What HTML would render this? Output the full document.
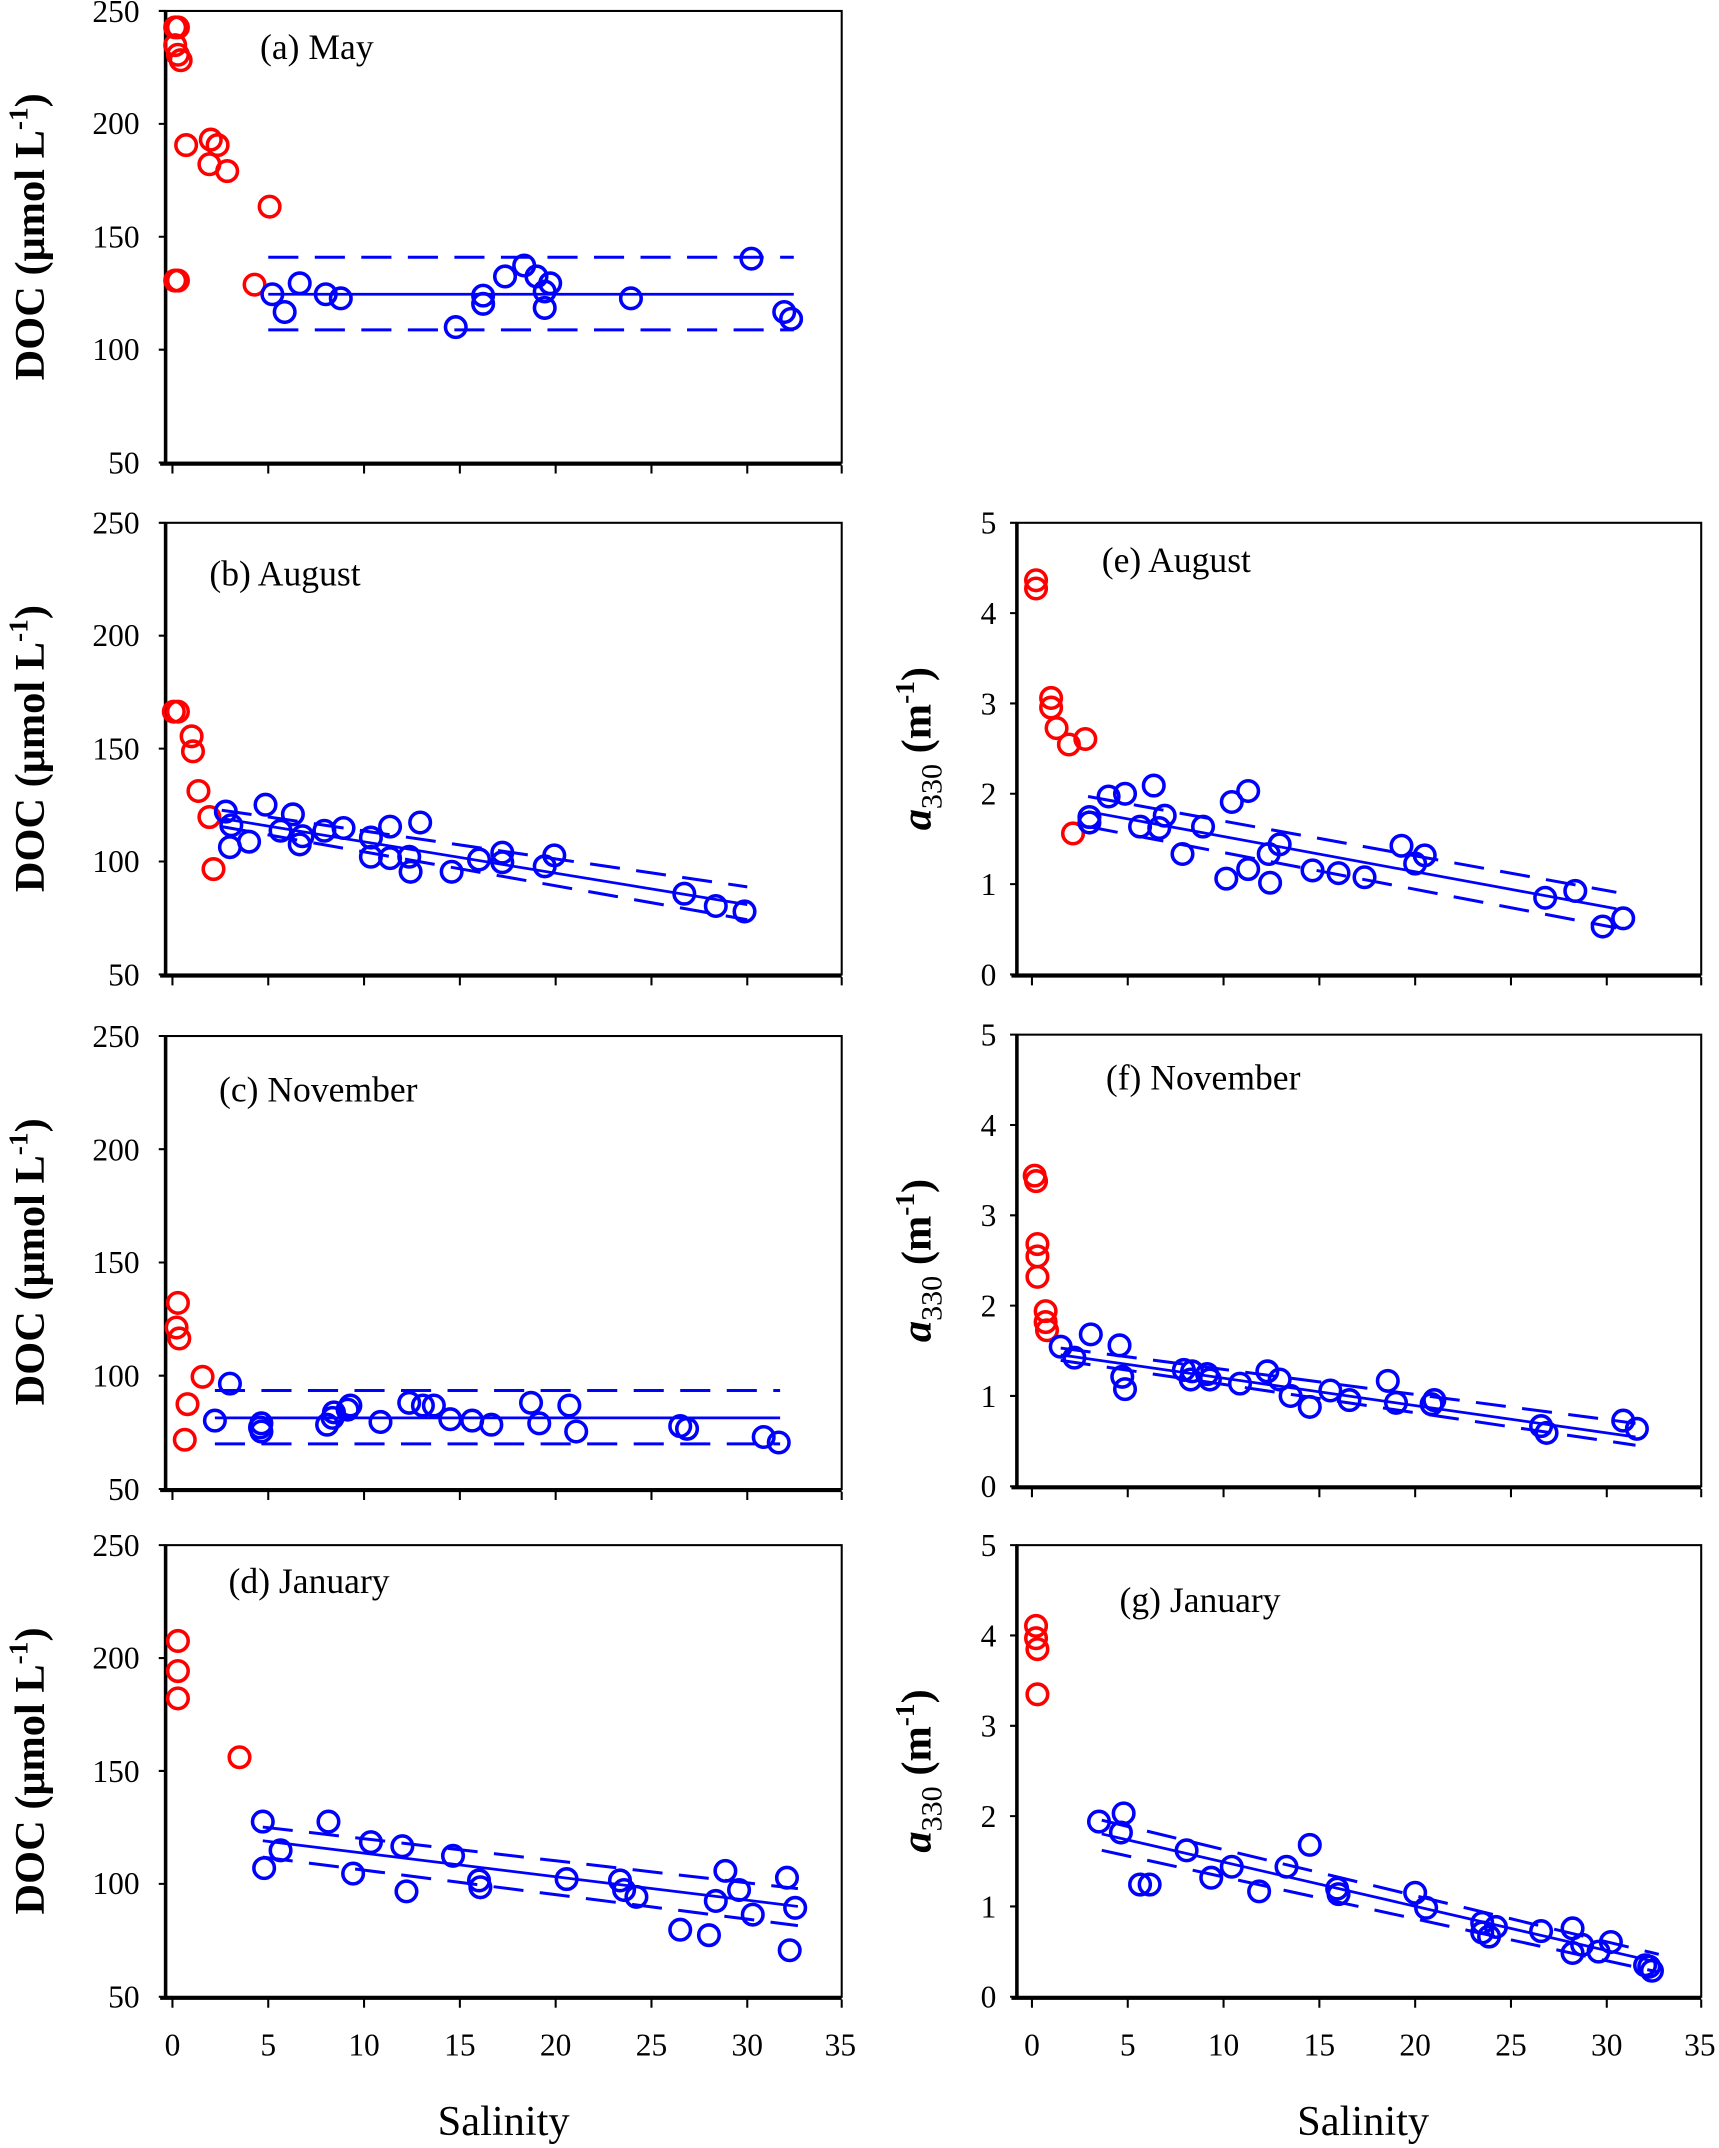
<!DOCTYPE html>
<html><head><meta charset="utf-8"><style>
html,body{margin:0;padding:0;background:#fff;}
svg{display:block;}
text{font-family:"Liberation Serif",serif;fill:#000;}
.t{font-size:23px;}
.p{font-size:26px;}
.ax{font-family:"Liberation Serif",serif;font-size:31px;}
.b{font-weight:bold;}
</style></head><body>
<svg width="1719" height="2148" viewBox="0 0 1256 1569.5" preserveAspectRatio="none" xmlns="http://www.w3.org/2000/svg">
<defs>
<g id="xt"><line x1="126" y1="0" x2="126" y2="6"/><line x1="196" y1="0" x2="196" y2="6"/><line x1="266" y1="0" x2="266" y2="6"/><line x1="336" y1="0" x2="336" y2="6"/><line x1="406" y1="0" x2="406" y2="6"/><line x1="476" y1="0" x2="476" y2="6"/><line x1="546" y1="0" x2="546" y2="6"/><line x1="615" y1="0" x2="615" y2="6"/></g>
</defs>

<g fill="none" stroke="#000">
 <rect x="121" y="8" width="494" height="330" stroke-width="1.5"/>
 <rect x="121" y="382" width="494" height="330" stroke-width="1.5"/>
 <rect x="121" y="757" width="494" height="331" stroke-width="1.5"/>
 <rect x="121" y="1129" width="494" height="330" stroke-width="1.5"/>
 <rect x="743" y="382" width="500" height="330" stroke-width="1.5"/>
 <rect x="743" y="756" width="500" height="330" stroke-width="1.5"/>
 <rect x="743" y="1129" width="500" height="330" stroke-width="1.5"/>
 <g stroke-width="2.6">
  <line x1="121" y1="8" x2="121" y2="339"/><line x1="117" y1="339" x2="615" y2="339"/>
  <line x1="121" y1="382" x2="121" y2="713"/><line x1="117" y1="713" x2="615" y2="713"/>
  <line x1="121" y1="757" x2="121" y2="1089"/><line x1="117" y1="1089" x2="615" y2="1089"/>
  <line x1="121" y1="1129" x2="121" y2="1460"/><line x1="117" y1="1460" x2="615" y2="1460"/>
  <line x1="743" y1="382" x2="743" y2="713"/><line x1="739" y1="713" x2="1243" y2="713"/>
  <line x1="743" y1="756" x2="743" y2="1087"/><line x1="739" y1="1087" x2="1243" y2="1087"/>
  <line x1="743" y1="1129" x2="743" y2="1460"/><line x1="739" y1="1460" x2="1243" y2="1460"/>
 </g>
 <g stroke-width="1.5">
  <path d="M116 8H121M116 90.5H121M116 173H121M116 255.5H121M116 338H121"/>
  <path d="M116 382H121M116 464.5H121M116 547H121M116 629.5H121M116 712H121"/>
  <path d="M116 757H121M116 839.7H121M116 922.5H121M116 1005.2H121M116 1088H121"/>
  <path d="M116 1129H121M116 1211.5H121M116 1294H121M116 1376.5H121M116 1459H121"/>
  <path d="M738 382H743M738 448H743M738 514H743M738 580H743M738 646H743M738 712H743"/>
  <path d="M738 756H743M738 822H743M738 888H743M738 954H743M738 1020H743M738 1086H743"/>
  <path d="M738 1129H743M738 1195H743M738 1261H743M738 1327H743M738 1393H743M738 1459H743"/>
 </g>
 <g stroke-width="1.5">
  <use href="#xt" y="340"/><use href="#xt" y="714"/><use href="#xt" y="1090"/><use href="#xt" y="1461"/>
  <use href="#xt" x="628" y="714"/><use href="#xt" x="628" y="1088"/><use href="#xt" x="628" y="1461"/>
 </g>
</g>

<g class="t" text-anchor="end">
 <text x="102" y="16">250</text><text x="102" y="98">200</text><text x="102" y="181">150</text><text x="102" y="263">100</text><text x="102" y="346">50</text>
 <text x="102" y="390">250</text><text x="102" y="472">200</text><text x="102" y="555">150</text><text x="102" y="637">100</text><text x="102" y="720">50</text>
 <text x="102" y="765">250</text><text x="102" y="848">200</text><text x="102" y="930">150</text><text x="102" y="1013">100</text><text x="102" y="1096">50</text>
 <text x="102" y="1137">250</text><text x="102" y="1219">200</text><text x="102" y="1302">150</text><text x="102" y="1384">100</text><text x="102" y="1467">50</text>
 <text x="728" y="390">5</text><text x="728" y="456">4</text><text x="728" y="522">3</text><text x="728" y="588">2</text><text x="728" y="654">1</text><text x="728" y="720">0</text>
 <text x="728" y="764">5</text><text x="728" y="830">4</text><text x="728" y="896">3</text><text x="728" y="962">2</text><text x="728" y="1028">1</text><text x="728" y="1094">0</text>
 <text x="728" y="1137">5</text><text x="728" y="1203">4</text><text x="728" y="1269">3</text><text x="728" y="1335">2</text><text x="728" y="1401">1</text><text x="728" y="1467">0</text>
</g>
<g class="t" text-anchor="middle">
 <text x="126" y="1502">0</text><text x="196" y="1502">5</text><text x="266" y="1502">10</text><text x="336" y="1502">15</text><text x="406" y="1502">20</text><text x="476" y="1502">25</text><text x="546" y="1502">30</text><text x="614" y="1502">35</text>
 <text x="754" y="1502">0</text><text x="824" y="1502">5</text><text x="894" y="1502">10</text><text x="964" y="1502">15</text><text x="1034" y="1502">20</text><text x="1104" y="1502">25</text><text x="1174" y="1502">30</text><text x="1242" y="1502">35</text>
</g>
<text class="ax" x="368" y="1560" text-anchor="middle">Salinity</text>
<text class="ax" x="996" y="1560" text-anchor="middle">Salinity</text>

<g class="ax b">
 <text transform="translate(32,173) rotate(-90)" text-anchor="middle">DOC (μmol L<tspan dy="-12" font-size="20">-1</tspan><tspan dy="12">)</tspan></text>
 <text transform="translate(32,547) rotate(-90)" text-anchor="middle">DOC (μmol L<tspan dy="-12" font-size="20">-1</tspan><tspan dy="12">)</tspan></text>
 <text transform="translate(32,922) rotate(-90)" text-anchor="middle">DOC (μmol L<tspan dy="-12" font-size="20">-1</tspan><tspan dy="12">)</tspan></text>
 <text transform="translate(32,1294) rotate(-90)" text-anchor="middle">DOC (μmol L<tspan dy="-12" font-size="20">-1</tspan><tspan dy="12">)</tspan></text>
 <text transform="translate(680,547) rotate(-90)" text-anchor="middle"><tspan font-style="italic">a</tspan><tspan font-size="22" font-weight="normal" dy="8">330</tspan><tspan dy="-8"> (m</tspan><tspan dy="-12" font-size="20">-1</tspan><tspan dy="12">)</tspan></text>
 <text transform="translate(680,921) rotate(-90)" text-anchor="middle"><tspan font-style="italic">a</tspan><tspan font-size="22" font-weight="normal" dy="8">330</tspan><tspan dy="-8"> (m</tspan><tspan dy="-12" font-size="20">-1</tspan><tspan dy="12">)</tspan></text>
 <text transform="translate(680,1294) rotate(-90)" text-anchor="middle"><tspan font-style="italic">a</tspan><tspan font-size="22" font-weight="normal" dy="8">330</tspan><tspan dy="-8"> (m</tspan><tspan dy="-12" font-size="20">-1</tspan><tspan dy="12">)</tspan></text>
</g>

<g class="p">
 <text x="190" y="43">(a) May</text>
 <text x="153" y="428">(b) August</text>
 <text x="160" y="805">(c) November</text>
 <text x="167" y="1164">(d) January</text>
 <text x="805" y="418">(e) August</text>
 <text x="808" y="796">(f) November</text>
 <text x="818" y="1178">(g) January</text>
</g>

<g stroke="#0000ff" stroke-width="2" fill="none">
 <line x1="196" y1="215" x2="580" y2="215"/>
 <line x1="162" y1="598" x2="546" y2="661"/>
 <line x1="157" y1="1036" x2="570" y2="1036"/>
 <line x1="192" y1="1345" x2="583" y2="1393"/>
 <line x1="795" y1="593" x2="1181" y2="664"/>
 <line x1="775" y1="990" x2="1195" y2="1050"/>
 <line x1="805" y1="1340" x2="1212" y2="1434"/>
 <g stroke-dasharray="22,12" stroke-width="2.2">
  <line x1="196" y1="188" x2="580" y2="188"/><line x1="196" y1="241" x2="580" y2="241"/>
  <line x1="162" y1="592" x2="546" y2="648"/><line x1="162" y1="604" x2="546" y2="672"/>
  <line x1="157" y1="1016" x2="570" y2="1016"/><line x1="157" y1="1055" x2="570" y2="1055"/>
  <line x1="192" y1="1335" x2="583" y2="1380"/><line x1="192" y1="1357" x2="583" y2="1407"/>
  <line x1="795" y1="582" x2="1181" y2="652"/><line x1="795" y1="604" x2="1181" y2="678"/>
  <line x1="775" y1="985" x2="1195" y2="1040"/><line x1="775" y1="994" x2="1195" y2="1056"/>
  <line x1="805" y1="1330" x2="1212" y2="1428"/><line x1="805" y1="1352" x2="1212" y2="1441"/>
 </g>
</g>

<g fill="none" stroke="#ff0000" stroke-width="2.6">
 <circle cx="128" cy="20" r="7.5"/><circle cx="130" cy="20" r="7.5"/><circle cx="128" cy="33" r="7.5"/><circle cx="130" cy="40" r="7.5"/><circle cx="132" cy="44" r="7.5"/><circle cx="128" cy="205" r="7.5"/><circle cx="130" cy="205" r="7.5"/><circle cx="136" cy="106" r="7.5"/><circle cx="154" cy="102" r="7.5"/><circle cx="159" cy="106" r="7.5"/><circle cx="153" cy="120" r="7.5"/><circle cx="166" cy="125" r="7.5"/><circle cx="197" cy="151" r="7.5"/><circle cx="186" cy="208" r="7.5"/>
 <circle cx="127" cy="520" r="7.5"/><circle cx="130" cy="520" r="7.5"/><circle cx="140" cy="538" r="7.5"/><circle cx="141" cy="549" r="7.5"/><circle cx="145" cy="578" r="7.5"/><circle cx="153" cy="597" r="7.5"/><circle cx="156" cy="635" r="7.5"/>
 <circle cx="130" cy="952" r="7.5"/><circle cx="129" cy="970" r="7.5"/><circle cx="131" cy="978" r="7.5"/><circle cx="148" cy="1006" r="7.5"/><circle cx="137" cy="1026" r="7.5"/><circle cx="135" cy="1052" r="7.5"/>
 <circle cx="130" cy="1199" r="7.5"/><circle cx="130" cy="1221" r="7.5"/><circle cx="130" cy="1241" r="7.5"/><circle cx="175" cy="1284" r="7.5"/>
 <circle cx="757" cy="424" r="7.5"/><circle cx="757" cy="430" r="7.5"/><circle cx="768" cy="510" r="7.5"/><circle cx="768" cy="517" r="7.5"/><circle cx="772" cy="532" r="7.5"/><circle cx="781" cy="544" r="7.5"/><circle cx="793" cy="540" r="7.5"/><circle cx="784" cy="609" r="7.5"/>
 <circle cx="756" cy="859" r="7.5"/><circle cx="757" cy="863" r="7.5"/><circle cx="758" cy="909" r="7.5"/><circle cx="758" cy="918" r="7.5"/><circle cx="758" cy="933" r="7.5"/><circle cx="764" cy="958" r="7.5"/><circle cx="764" cy="966" r="7.5"/><circle cx="765" cy="972" r="7.5"/>
 <circle cx="757" cy="1188" r="7.5"/><circle cx="757" cy="1197" r="7.5"/><circle cx="758" cy="1205" r="7.5"/><circle cx="758" cy="1238" r="7.5"/>
</g>

<g fill="none" stroke="#0000ff" stroke-width="2.6">
 <circle cx="199" cy="215" r="7.5"/><circle cx="208" cy="228" r="7.5"/><circle cx="219" cy="207" r="7.5"/><circle cx="238" cy="215" r="7.5"/><circle cx="249" cy="218" r="7.5"/><circle cx="333" cy="239" r="7.5"/><circle cx="353" cy="216" r="7.5"/><circle cx="353" cy="222" r="7.5"/><circle cx="369" cy="202" r="7.5"/><circle cx="383" cy="194" r="7.5"/><circle cx="392" cy="202" r="7.5"/><circle cx="398" cy="213" r="7.5"/><circle cx="402" cy="207" r="7.5"/><circle cx="398" cy="225" r="7.5"/><circle cx="461" cy="218" r="7.5"/><circle cx="549" cy="189" r="7.5"/><circle cx="573" cy="228" r="7.5"/><circle cx="578" cy="233" r="7.5"/>

 <circle cx="165" cy="593" r="7.5"/><circle cx="169" cy="603" r="7.5"/><circle cx="168" cy="619" r="7.5"/><circle cx="182" cy="615" r="7.5"/><circle cx="194" cy="588" r="7.5"/><circle cx="205" cy="607" r="7.5"/><circle cx="214" cy="595" r="7.5"/><circle cx="219" cy="617" r="7.5"/><circle cx="221" cy="611" r="7.5"/><circle cx="237" cy="607" r="7.5"/><circle cx="251" cy="605" r="7.5"/><circle cx="271" cy="612" r="7.5"/><circle cx="271" cy="626" r="7.5"/><circle cx="285" cy="604" r="7.5"/><circle cx="285" cy="627" r="7.5"/><circle cx="299" cy="626" r="7.5"/><circle cx="300" cy="637" r="7.5"/><circle cx="307" cy="601" r="7.5"/><circle cx="330" cy="637" r="7.5"/><circle cx="350" cy="628" r="7.5"/><circle cx="367" cy="623" r="7.5"/><circle cx="367" cy="630" r="7.5"/><circle cx="398" cy="633" r="7.5"/><circle cx="405" cy="625" r="7.5"/><circle cx="500" cy="653" r="7.5"/><circle cx="523" cy="662" r="7.5"/><circle cx="544" cy="666" r="7.5"/>

 <circle cx="157" cy="1038" r="7.5"/><circle cx="168" cy="1011" r="7.5"/><circle cx="191" cy="1040" r="7.5"/><circle cx="191" cy="1046" r="7.5"/><circle cx="190" cy="1043" r="7.5"/><circle cx="239" cy="1041" r="7.5"/><circle cx="244" cy="1032" r="7.5"/><circle cx="243" cy="1036" r="7.5"/><circle cx="256" cy="1027" r="7.5"/><circle cx="254" cy="1030" r="7.5"/><circle cx="278" cy="1039" r="7.5"/><circle cx="299" cy="1025" r="7.5"/><circle cx="309" cy="1027" r="7.5"/><circle cx="317" cy="1027" r="7.5"/><circle cx="329" cy="1037" r="7.5"/><circle cx="345" cy="1038" r="7.5"/><circle cx="359" cy="1041" r="7.5"/><circle cx="388" cy="1025" r="7.5"/><circle cx="394" cy="1040" r="7.5"/><circle cx="416" cy="1027" r="7.5"/><circle cx="421" cy="1046" r="7.5"/><circle cx="497" cy="1042" r="7.5"/><circle cx="502" cy="1044" r="7.5"/><circle cx="558" cy="1050" r="7.5"/><circle cx="569" cy="1054" r="7.5"/>

 <circle cx="192" cy="1331" r="7.5"/><circle cx="193" cy="1365" r="7.5"/><circle cx="205" cy="1352" r="7.5"/><circle cx="240" cy="1331" r="7.5"/><circle cx="258" cy="1369" r="7.5"/><circle cx="271" cy="1346" r="7.5"/><circle cx="294" cy="1349" r="7.5"/><circle cx="297" cy="1382" r="7.5"/><circle cx="331" cy="1356" r="7.5"/><circle cx="350" cy="1374" r="7.5"/><circle cx="351" cy="1379" r="7.5"/><circle cx="414" cy="1373" r="7.5"/><circle cx="453" cy="1374" r="7.5"/><circle cx="456" cy="1381" r="7.5"/><circle cx="465" cy="1386" r="7.5"/><circle cx="497" cy="1410" r="7.5"/><circle cx="518" cy="1414" r="7.5"/><circle cx="523" cy="1389" r="7.5"/><circle cx="530" cy="1367" r="7.5"/><circle cx="540" cy="1381" r="7.5"/><circle cx="550" cy="1399" r="7.5"/><circle cx="575" cy="1372" r="7.5"/><circle cx="581" cy="1394" r="7.5"/><circle cx="577" cy="1425" r="7.5"/>

 <circle cx="796" cy="597" r="7.5"/><circle cx="796" cy="601" r="7.5"/><circle cx="810" cy="582" r="7.5"/><circle cx="822" cy="580" r="7.5"/><circle cx="833" cy="604" r="7.5"/><circle cx="843" cy="574" r="7.5"/><circle cx="847" cy="605" r="7.5"/><circle cx="851" cy="596" r="7.5"/><circle cx="864" cy="624" r="7.5"/><circle cx="879" cy="604" r="7.5"/><circle cx="896" cy="642" r="7.5"/><circle cx="900" cy="586" r="7.5"/><circle cx="912" cy="635" r="7.5"/><circle cx="912" cy="578" r="7.5"/><circle cx="928" cy="645" r="7.5"/><circle cx="927" cy="624" r="7.5"/><circle cx="935" cy="617" r="7.5"/><circle cx="959" cy="636" r="7.5"/><circle cx="978" cy="638" r="7.5"/><circle cx="997" cy="641" r="7.5"/><circle cx="1024" cy="618" r="7.5"/><circle cx="1034" cy="631" r="7.5"/><circle cx="1041" cy="625" r="7.5"/><circle cx="1129" cy="656" r="7.5"/><circle cx="1151" cy="651" r="7.5"/><circle cx="1171" cy="677" r="7.5"/><circle cx="1186" cy="671" r="7.5"/>

 <circle cx="775" cy="984" r="7.5"/><circle cx="785" cy="992" r="7.5"/><circle cx="797" cy="975" r="7.5"/><circle cx="818" cy="983" r="7.5"/><circle cx="820" cy="1006" r="7.5"/><circle cx="822" cy="1015" r="7.5"/><circle cx="865" cy="1001" r="7.5"/><circle cx="870" cy="1008" r="7.5"/><circle cx="871" cy="1002" r="7.5"/><circle cx="882" cy="1004" r="7.5"/><circle cx="884" cy="1008" r="7.5"/><circle cx="906" cy="1011" r="7.5"/><circle cx="926" cy="1002" r="7.5"/><circle cx="935" cy="1008" r="7.5"/><circle cx="943" cy="1020" r="7.5"/><circle cx="957" cy="1028" r="7.5"/><circle cx="972" cy="1016" r="7.5"/><circle cx="986" cy="1023" r="7.5"/><circle cx="1014" cy="1009" r="7.5"/><circle cx="1020" cy="1025" r="7.5"/><circle cx="1046" cy="1026" r="7.5"/><circle cx="1048" cy="1023" r="7.5"/><circle cx="1126" cy="1042" r="7.5"/><circle cx="1130" cy="1047" r="7.5"/><circle cx="1186" cy="1038" r="7.5"/><circle cx="1196" cy="1044" r="7.5"/>

 <circle cx="803" cy="1331" r="7.5"/><circle cx="819" cy="1339" r="7.5"/><circle cx="821" cy="1325" r="7.5"/><circle cx="833" cy="1377" r="7.5"/><circle cx="840" cy="1377" r="7.5"/><circle cx="867" cy="1352" r="7.5"/><circle cx="885" cy="1372" r="7.5"/><circle cx="900" cy="1364" r="7.5"/><circle cx="920" cy="1382" r="7.5"/><circle cx="940" cy="1364" r="7.5"/><circle cx="957" cy="1348" r="7.5"/><circle cx="977" cy="1380" r="7.5"/><circle cx="978" cy="1384" r="7.5"/><circle cx="1034" cy="1383" r="7.5"/><circle cx="1042" cy="1394" r="7.5"/><circle cx="1083" cy="1405" r="7.5"/><circle cx="1083" cy="1412" r="7.5"/><circle cx="1088" cy="1415" r="7.5"/><circle cx="1093" cy="1408" r="7.5"/><circle cx="1126" cy="1411" r="7.5"/><circle cx="1149" cy="1409" r="7.5"/><circle cx="1149" cy="1427" r="7.5"/><circle cx="1156" cy="1421" r="7.5"/><circle cx="1168" cy="1426" r="7.5"/><circle cx="1177" cy="1419" r="7.5"/><circle cx="1202" cy="1436" r="7.5"/><circle cx="1205" cy="1437" r="7.5"/><circle cx="1207" cy="1440" r="7.5"/>
</g>
</svg>
</body></html>
